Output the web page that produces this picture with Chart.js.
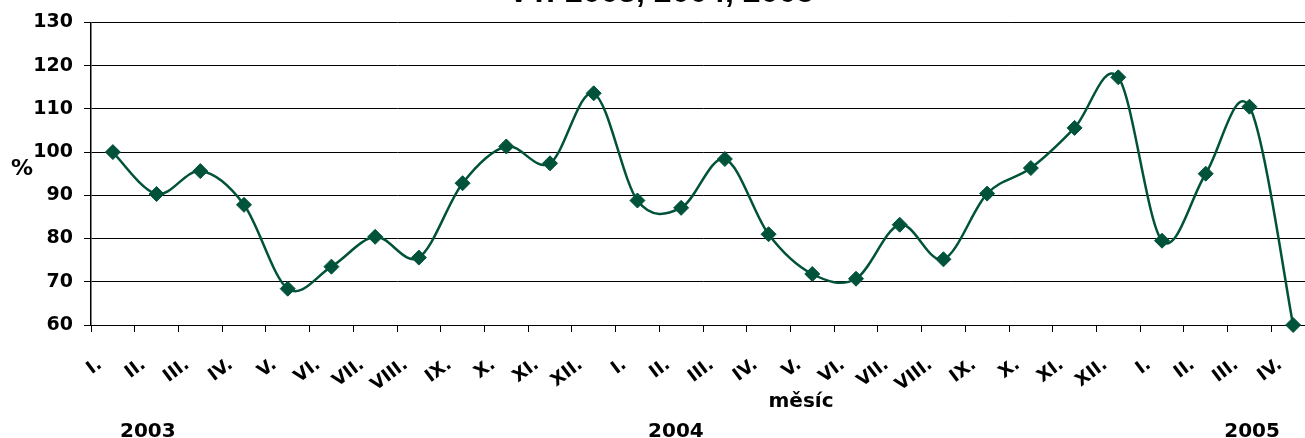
<!DOCTYPE html>
<html>
<head>
<meta charset="utf-8">
<script src="https://cdn.jsdelivr.net/npm/chart.js@4.4.0/dist/chart.umd.min.js"></script>
<style>
  html, body { margin: 0; padding: 0; background: #fff; overflow: hidden; }
  #wrap { width: 1320px; height: 438px; }
</style>
</head>
<body>
<div id="wrap"><canvas id="vtChart" width="1320" height="438"></canvas></div>
<script>
// months (roman numerals) for 2003, 2004 and the first part of 2005
const months2003 = ['I.', 'II.', 'III.', 'IV.', 'V.', 'VI.', 'VII.', 'VIII.', 'IX.', 'X.', 'XI.', 'XII.'];
const months2004 = ['I.', 'II.', 'III.', 'IV.', 'V.', 'VI.', 'VII.', 'VIII.', 'IX.', 'X.', 'XI.', 'XII.'];
const months2005 = ['I.', 'II.', 'III.', 'IV.'];
const labels = months2003.concat(months2004, months2005);

// index values in %
const vt2003 = [100, 90.3, 95.6, 87.8, 68.4, 73.5, 80.4, 75.6, 92.8, 101.3, 97.4, 113.6];
const vt2004 = [88.8, 87.1, 98.4, 81.0, 71.8, 70.7, 83.2, 75.2, 90.4, 96.3, 105.6, 117.3];
const vt2005 = [79.5, 95.0, 110.5, 60.0];
const values = vt2003.concat(vt2004, vt2005);

const years = ['2003', '2004', '2005'];
const yearAt = [0.8, 12.88, 26.06]; // category index under each year label
const yTicks = [60, 70, 80, 90, 100, 110, 120, 130];

const FONT = '"DejaVu Sans", Verdana, sans-serif';
const GREEN = '#00533a';

// Excel-like smoothing (catmull-rom), replaces chart.js control points
const excelSmooth = {
    id: 'excelSmooth',
    beforeDatasetsDraw(chart) {
        const meta = chart.getDatasetMeta(0);
        const pts = meta.data;
        for (let i = 0; i < pts.length; i++) {
            const p = pts[i];
            const a = pts[i - 1] || p;
            const b = pts[i + 1] || p;
            const dx = (b.x - a.x) / 6, dy = (b.y - a.y) / 6;
            p.cp1x = p.x - dx; p.cp1y = p.y - dy;
            p.cp2x = p.x + dx; p.cp2y = p.y + dy;
        }
        meta.dataset._pointsUpdated = true;
    }
};

// extra texts: title (cut off at the top), axis titles and years
const extraText = {
    id: 'extraText',
    afterDraw(chart) {
        const c = chart.ctx;
        const x = chart.scales.x;
        c.save();
        c.fillStyle = '#000';
        c.textBaseline = 'alphabetic';

        c.font = 'bold 32px "Liberation Sans", Arial, sans-serif';
        c.textAlign = 'center';
        c.fillText('VT: 2003, 2004, 2005', 661, 2);

        c.font = 'bold 22px ' + FONT;
        c.textAlign = 'left';
        c.fillText('%', 11, 175);

        c.font = 'bold 20px ' + FONT;
        c.textAlign = 'center';
        c.fillText('měsíc', 801, 407);

        years.forEach((y, i) => {
            c.fillText(y, x.getPixelForValue(yearAt[i]), 437);
        });
        c.restore();
    }
};

new Chart(document.getElementById('vtChart'), {
    type: 'line',
    data: {
        labels: labels,
        datasets: [{
            label: 'VT',
            data: values,
            borderColor: GREEN,
            backgroundColor: GREEN,
            borderWidth: 2.5,
            tension: 0.3,
            pointStyle: 'rectRot',
            pointRadius: 7.5,
            pointBorderWidth: 1,
            pointBorderColor: GREEN,
            pointBackgroundColor: GREEN,
            clip: false
        }]
    },
    options: {
        responsive: false,
        animation: false,
        layout: { autoPadding: false, padding: { top: 21, right: 5, left: 0, bottom: 0 } },
        plugins: {
            legend: { display: false },
            title: { display: false },
            tooltip: { enabled: false }
        },
        scales: {
            x: {
                offset: true,
                afterFit: s => {
                    s.height = 113;
                    s.paddingLeft = 0;
                    s.paddingRight = 0;
                },
                grid: {
                    offset: true,
                    drawOnChartArea: false,
                    drawTicks: true,
                    tickLength: 7,
                    color: '#000'
                },
                border: { display: true, color: '#000', width: 1 },
                ticks: {
                    autoSkip: false,
                    minRotation: 37,
                    maxRotation: 37,
                    padding: 22,
                    labelOffset: -13,
                    color: '#000',
                    font: { family: FONT, size: 18, weight: 'bold' }
                }
            },
            y: {
                min: 60,
                max: 130,
                afterFit: s => { s.width = 91; },
                afterBuildTicks: s => { s.ticks = yTicks.map(v => ({ value: v })); },
                grid: {
                    color: '#000',
                    lineWidth: 1,
                    tickLength: 7
                },
                border: { display: true, color: '#000', width: 1.5 },
                ticks: {
                    padding: 11,
                    color: '#000',
                    font: { family: FONT, size: 19, weight: 'bold' }
                }
            }
        }
    },
    plugins: [excelSmooth, extraText]
});
</script>
</body>
</html>
